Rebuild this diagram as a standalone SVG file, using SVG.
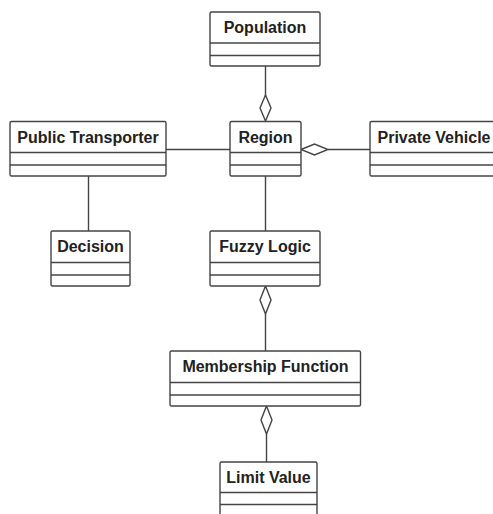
<svg xmlns="http://www.w3.org/2000/svg" width="493" height="514" viewBox="0 0 493 514">
<style>
.box{fill:#fff;stroke:#444;stroke-width:1.4}
.div{stroke:#444;stroke-width:1.4}
.lbl{font-family:"Liberation Sans",Arial,sans-serif;font-weight:bold;font-size:16px;fill:#222;text-anchor:middle}
.edge{fill:none;stroke:#444;stroke-width:1.4}
.dia{fill:#fff;stroke:#444;stroke-width:1.4}
</style>
<rect width="493" height="514" fill="#fff"/>
<g id="connectors">
<line class="edge" x1="265.5" y1="66" x2="265.5" y2="96"/>
<polygon class="dia" points="265.5,95 271,108 265.5,121 260,108"/>
<line class="edge" x1="166" y1="149.5" x2="230" y2="149.5"/>
<line class="edge" x1="328" y1="149.5" x2="370" y2="149.5"/>
<polygon class="dia" points="301,149.5 314.5,144 328,149.5 314.5,155"/>
<line class="edge" x1="88.5" y1="176" x2="88.5" y2="231"/>
<line class="edge" x1="265.5" y1="176" x2="265.5" y2="231"/>
<polygon class="dia" points="265.5,286 271,300 265.5,314 260,300"/>
<line class="edge" x1="265.5" y1="314" x2="265.5" y2="351"/>
<polygon class="dia" points="266.5,406 272,420 266.5,434 261,420"/>
<line class="edge" x1="266.5" y1="434" x2="266.5" y2="462"/>
</g>
<g id="population">
<rect class="box" x="210" y="12" width="110" height="54" rx="1.5"/>
<line class="div" x1="210" y1="43" x2="320" y2="43"/>
<line class="div" x1="210" y1="55.5" x2="320" y2="55.5"/>
<text class="lbl" x="265" y="33">Population</text>
</g>
<g id="region">
<rect class="box" x="230" y="121.5" width="71" height="54.5" rx="1.5"/>
<line class="div" x1="230" y1="152.5" x2="301" y2="152.5"/>
<line class="div" x1="230" y1="165" x2="301" y2="165"/>
<text class="lbl" x="265.5" y="142.5">Region</text>
</g>
<g id="public-transporter">
<rect class="box" x="10" y="121.5" width="156" height="54.5" rx="1.5"/>
<line class="div" x1="10" y1="152.5" x2="166" y2="152.5"/>
<line class="div" x1="10" y1="165" x2="166" y2="165"/>
<text class="lbl" x="88" y="142.5">Public Transporter</text>
</g>
<g id="private-vehicle">
<rect class="box" x="370" y="121.5" width="130" height="54.5" rx="1.5"/>
<line class="div" x1="370" y1="152.5" x2="500" y2="152.5"/>
<line class="div" x1="370" y1="165" x2="500" y2="165"/>
<text class="lbl" x="434" y="142.5">Private Vehicle</text>
</g>
<g id="decision">
<rect class="box" x="51" y="231" width="79" height="55" rx="1.5"/>
<line class="div" x1="51" y1="262.5" x2="130" y2="262.5"/>
<line class="div" x1="51" y1="275" x2="130" y2="275"/>
<text class="lbl" x="90.5" y="252">Decision</text>
</g>
<g id="fuzzy-logic">
<rect class="box" x="210" y="231" width="110" height="55" rx="1.5"/>
<line class="div" x1="210" y1="262.5" x2="320" y2="262.5"/>
<line class="div" x1="210" y1="275" x2="320" y2="275"/>
<text class="lbl" x="265" y="252">Fuzzy Logic</text>
</g>
<g id="membership-function">
<rect class="box" x="170" y="351" width="190.5" height="55" rx="1.5"/>
<line class="div" x1="170" y1="382.5" x2="360.5" y2="382.5"/>
<line class="div" x1="170" y1="395" x2="360.5" y2="395"/>
<text class="lbl" x="265.5" y="372">Membership Function</text>
</g>
<g id="limit-value">
<rect class="box" x="220" y="462" width="97" height="56" rx="1.5"/>
<line class="div" x1="220" y1="492.5" x2="317" y2="492.5"/>
<line class="div" x1="220" y1="504.5" x2="317" y2="504.5"/>
<text class="lbl" x="268.5" y="483">Limit Value</text>
</g>
</svg>
